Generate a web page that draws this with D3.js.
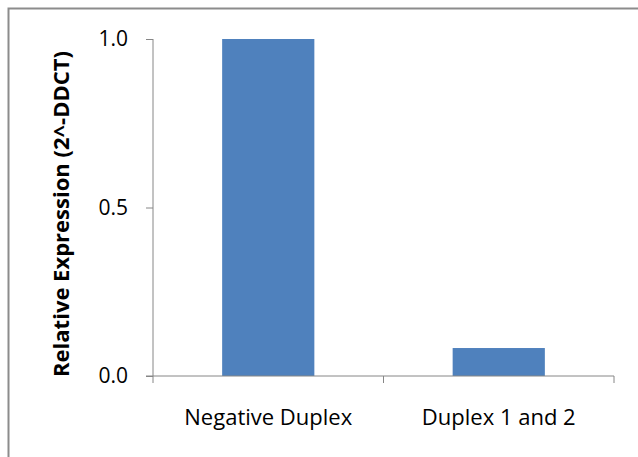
<!DOCTYPE html>
<html>
<head>
    <meta charset="utf-8">
    <style>
        body { margin: 0; background: #fff; }
        text { font-family: "Open Sans", "Noto Sans", sans-serif; fill: #000; }
    </style>
</head>
<body>
<svg width="638" height="457"></svg>
<script src="https://d3js.org/d3.v7.min.js"></script>
<script>
    var categories = ["Negative Duplex", "Duplex 1 and 2"];
    var values = [1.0, 0.083];
    var yTicks = [0, 0.5, 1.0];

    var svg = d3.select("svg"),
        margin = { top: 39, right: 24, bottom: 81, left: 153 },
        width = +svg.attr("width") - margin.left - margin.right,
        height = +svg.attr("height") - margin.top - margin.bottom;

    // outer chart frame (right/bottom edges fall outside the window)
    svg.append("rect")
        .attr("x", 8.5).attr("y", 8.5)
        .attr("width", 700).attr("height", 600)
        .attr("fill", "none").attr("stroke", "#8c8c8c").attr("stroke-width", 2);

    var g = svg.append("g").attr("transform", "translate(" + margin.left + "," + margin.top + ")");

    var x = d3.scaleBand().domain(categories).range([0, width]).paddingInner(0.6).paddingOuter(0.3);
    var y = d3.scaleLinear().domain([0, 1]).range([height, 0]);

    g.selectAll(".bar")
        .data(values)
        .enter().append("rect")
        .attr("class", "bar")
        .attr("x", function (d, i) { return x(categories[i]); })
        .attr("y", function (d) { return y(d); })
        .attr("width", x.bandwidth())
        .attr("height", function (d) { return height - y(d); })
        .attr("fill", "#4f81bd");

    // y axis
    var yAxis = g.append("g")
        .call(d3.axisLeft(y).tickValues(yTicks).tickSize(7).tickPadding(18).tickFormat(d3.format(".1f")));
    yAxis.select(".domain").attr("stroke", "#868686").attr("d", "M0,0V" + height);
    yAxis.selectAll(".tick line").attr("stroke", "#868686");
    yAxis.selectAll("text").attr("font-size", 21).style("fill", "#000");

    // x axis with ticks between categories
    var step = width / categories.length;
    var xg = g.append("g").attr("transform", "translate(0," + height + ")");
    xg.append("line").attr("x1", -7).attr("x2", width).attr("stroke", "#868686");
    xg.selectAll(".xtick").data(d3.range(categories.length + 1)).enter().append("line")
        .attr("x1", function (d) { return d * step; }).attr("x2", function (d) { return d * step; })
        .attr("y1", 0).attr("y2", 7).attr("stroke", "#868686");
    xg.selectAll(".xlab").data(categories).enter().append("text")
        .attr("x", function (d) { return x(d) + x.bandwidth() / 2; })
        .attr("y", 49)
        .attr("text-anchor", "middle")
        .attr("font-size", 22)
        .text(function (d) { return d; });

    svg.append("text")
        .attr("transform", "translate(69,214) rotate(-90)")
        .attr("text-anchor", "middle")
        .attr("font-size", 22)
        .attr("font-weight", "bold")
        .text("Relative Expression (2^-DDCT)");
</script>
</body>
</html>
